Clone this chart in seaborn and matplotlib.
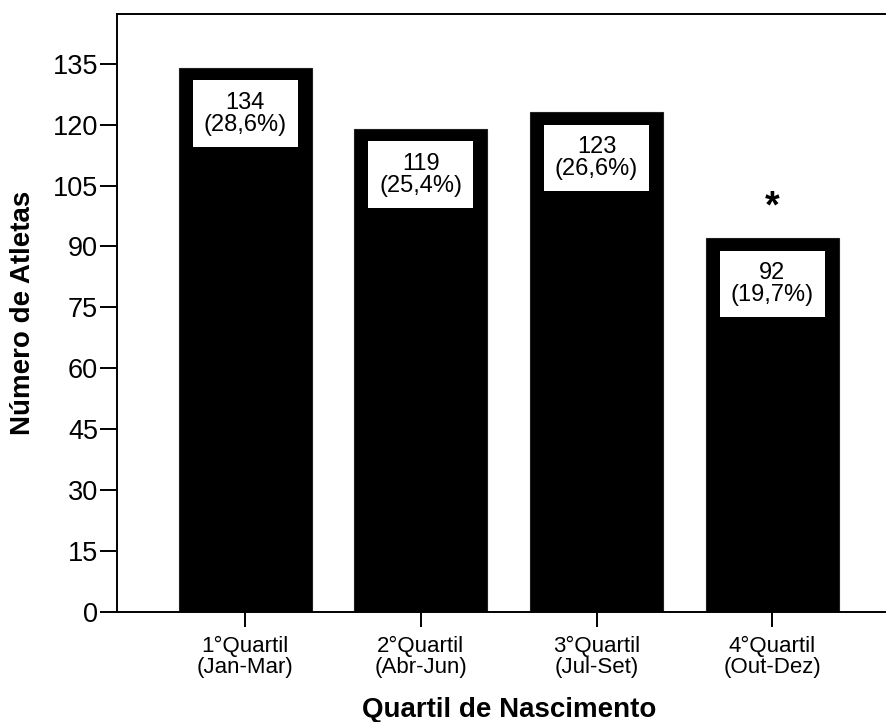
import pandas as pd
import matplotlib
matplotlib.use("Agg")
import matplotlib.pyplot as plt
import seaborn as sns

# Data
quartis = ["1°Quartil\n(Jan-Mar)", "2°Quartil\n(Abr-Jun)", "3°Quartil\n(Jul-Set)", "4°Quartil\n(Out-Dez)"]
atletas = [134, 119, 123, 92]
percentuais = ["28,6%", "25,4%", "26,6%", "19,7%"]
significativo = [False, False, False, True]
y_ticks = [0, 15, 30, 45, 60, 75, 90, 105, 120, 135]

sns.set_style("ticks")
plt.rcParams["font.family"] = ["Liberation Sans", "DejaVu Sans"]
plt.rcParams["text.color"] = "black"
plt.rcParams["axes.labelcolor"] = "black"

df = pd.DataFrame({"Quartil": quartis, "Atletas": atletas})

fig = plt.figure(figsize=(8.86, 7.22), dpi=100)
ax = fig.add_axes([0.1326, 0.152, 1.0158 - 0.1326, 0.9806 - 0.152])

sns.barplot(data=df, x="Quartil", y="Atletas", color="black", width=0.757,
            edgecolor="#202020", linewidth=0.8, saturation=1, ax=ax)

ax.set_xlim(-0.727, 3.727)
ax.set_ylim(0, 147.2)
ax.set_yticks(y_ticks)

# Value boxes inside each bar
for i, (n, p) in enumerate(zip(atletas, percentuais)):
    ax.text(i, n - 11.3, f"{n}\n({p})", ha="center", va="center", fontsize=17,
            linespacing=1.0, color="black",
            bbox=dict(boxstyle="square,pad=0.47", facecolor="white", edgecolor="none"))
    if significativo[i]:
        ax.text(i, n + 7.5, "*", ha="center", va="center", fontsize=27,
                fontweight="bold", color="black")

for side in ["left", "bottom", "top"]:
    ax.spines[side].set_linewidth(1.4)
    ax.spines[side].set_color("black")
ax.spines["right"].set_visible(False)

ax.tick_params(axis="y", length=12, width=1.4, labelsize=19.5, pad=2, colors="black")
ax.tick_params(axis="x", length=11, width=1.4, labelsize=16, pad=6, colors="black")
for lbl in ax.get_xticklabels():
    lbl.set_linespacing(1.0)

ax.set_xlabel("Quartil de Nascimento", fontsize=20, fontweight="bold", labelpad=14)
ax.set_ylabel("Número de Atletas", fontsize=20, fontweight="bold", labelpad=12)

fig.savefig("out.png", dpi=100)
